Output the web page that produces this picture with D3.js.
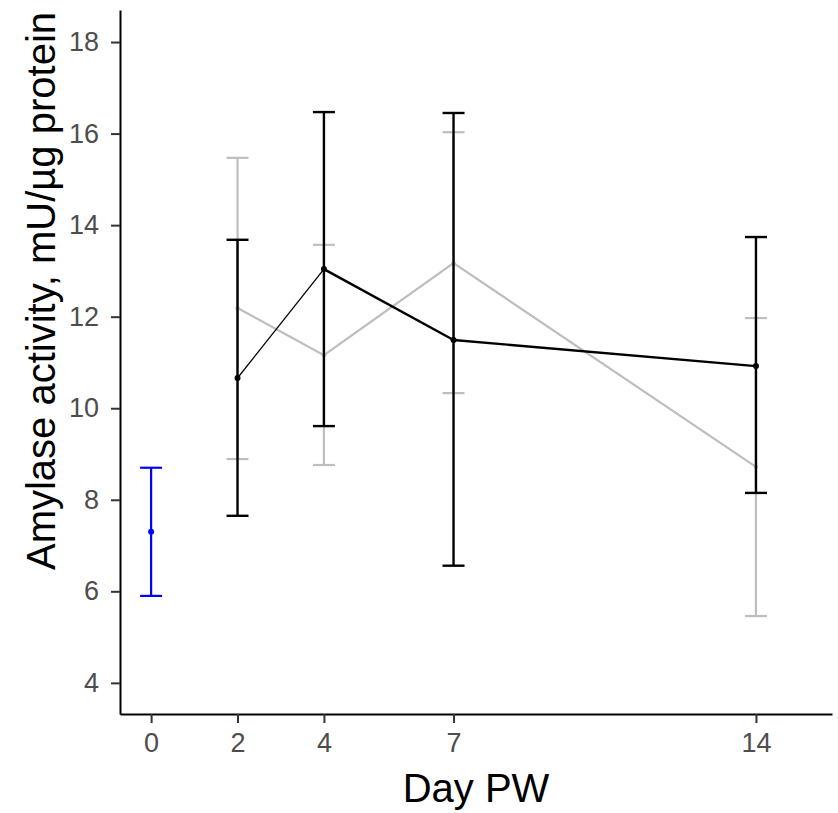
<!DOCTYPE html>
<html>
<head>
<meta charset="utf-8">
<script src="https://cdn.jsdelivr.net/npm/d3@7"></script>
<style>
  body { margin: 0; background: #fff; }
  svg { display: block; font-family: Arial, "Liberation Sans", sans-serif; }
</style>
</head>
<body>
<svg id="chart" width="838" height="813"></svg>
<script>
// days post weaning
const days = [2, 4, 7, 14];
const xTicks = [0, 2, 4, 7, 14];
const yTicks = [4, 6, 8, 10, 12, 14, 16, 18];

// grey group
const greyMean = [12.19, 11.16, 13.17, 8.72];
const greyUpper = [15.47, 13.57, 16.03, 11.97];
const greyLower = [8.89, 8.76, 10.33, 5.46];

// black group
const blackMean = [10.66, 13.04, 11.49, 10.92];
const blackUpper = [13.68, 16.47, 16.45, 13.74];
const blackLower = [7.65, 9.61, 6.56, 8.15];

// baseline (day 0)
const baseDay = [0];
const baseMean = [7.30];
const baseUpper = [8.70];
const baseLower = [5.90];

const svg = d3.select("#chart");
const margin = { left: 120, right: 6, top: 10, bottom: 99 };
const width = 838, height = 813;

const x = d3.scaleLinear()
  .domain([-0.72, 15.76])
  .range([margin.left, width - margin.right]);
const y = d3.scaleLinear()
  .domain([3.32, 18.70])
  .range([height - margin.bottom, margin.top]);

/* ------- AXES -------*/
const xAxis = svg.append("g")
  .attr("transform", `translate(0,${height - margin.bottom})`)
  .call(d3.axisBottom(x).tickValues(xTicks).tickSize(9).tickPadding(10).tickSizeOuter(0));
const yAxis = svg.append("g")
  .attr("transform", `translate(${margin.left},0)`)
  .call(d3.axisLeft(y).tickValues(yTicks).tickSize(9).tickPadding(12).tickSizeOuter(0));

[xAxis, yAxis].forEach(ax => {
  ax.attr("font-size", 27).attr("font-family", "Arial, 'Liberation Sans', sans-serif");
  ax.select(".domain").attr("stroke", "#000").attr("stroke-width", 2);
  ax.selectAll(".tick line").attr("stroke", "#333").attr("stroke-width", 2);
  ax.selectAll(".tick text").attr("fill", "#4d4d4d");
});

const panelMid = (x.range()[0] + x.range()[1]) / 2;
svg.append("text")
  .attr("x", panelMid)
  .attr("y", 802)
  .attr("text-anchor", "middle")
  .attr("font-size", 40)
  .text("Day PW");

svg.append("text")
  .attr("transform", "translate(55,291) rotate(-90)")
  .attr("text-anchor", "middle")
  .attr("font-size", 40)
  .text("Amylase activity, mU/µg protein");

/* ------- SERIES -------*/
function errorBars(xs, lo, hi, color, width) {
  const g = svg.append("g").attr("stroke", color).attr("stroke-width", width);
  xs.forEach((d, i) => {
    g.append("line").attr("x1", x(d)).attr("x2", x(d)).attr("y1", y(lo[i])).attr("y2", y(hi[i]));
    g.append("line").attr("x1", x(d) - 11).attr("x2", x(d) + 11).attr("y1", y(lo[i])).attr("y2", y(lo[i]));
    g.append("line").attr("x1", x(d) - 11).attr("x2", x(d) + 11).attr("y1", y(hi[i])).attr("y2", y(hi[i]));
  });
}

function points(xs, means, color, r) {
  svg.append("g").selectAll("circle")
    .data(xs)
    .enter()
    .append("circle")
    .attr("cx", d => x(d))
    .attr("cy", (d, i) => y(means[i]))
    .attr("r", r)
    .attr("fill", color);
}

// grey
const line = d3.line().x(d => x(d[0])).y(d => y(d[1]));
svg.append("path")
  .datum(days.map((d, i) => [d, greyMean[i]]))
  .attr("d", line)
  .attr("fill", "none")
  .attr("stroke", "#bebebe")
  .attr("stroke-width", 2.2);
errorBars(days, greyLower, greyUpper, "#bebebe", 2.2);
points(days, greyMean, "#bebebe", 2.2);

// black: first segment drawn thinner, as in the original
const blackSegWidth = [1.3, 2.4, 2.4];
blackSegWidth.forEach((w, i) => {
  svg.append("line")
    .attr("x1", x(days[i])).attr("y1", y(blackMean[i]))
    .attr("x2", x(days[i + 1])).attr("y2", y(blackMean[i + 1]))
    .attr("stroke", "#000")
    .attr("stroke-width", w);
});
errorBars(days, blackLower, blackUpper, "#000", 2.4);
points(days, blackMean, "#000", 3);

// baseline
errorBars(baseDay, baseLower, baseUpper, "#0000ff", 2.2);
points(baseDay, baseMean, "#0000ff", 3);
</script>
</body>
</html>
